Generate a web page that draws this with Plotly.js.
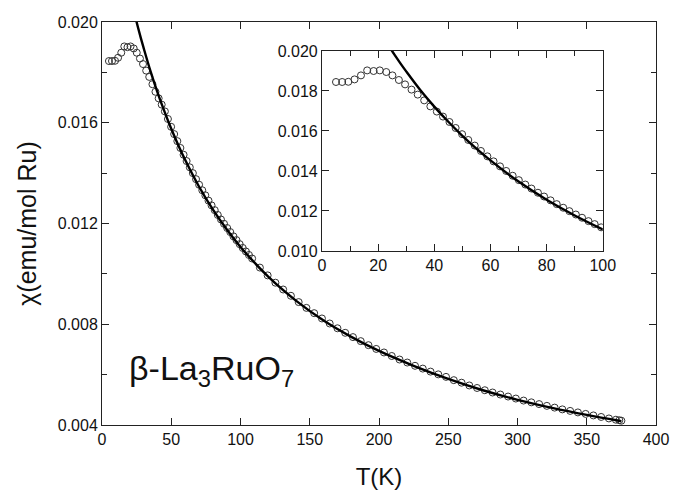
<!DOCTYPE html>
<html>
<head>
<meta charset="utf-8">
<script src="https://cdn.plot.ly/plotly-3.0.1.min.js"></script>
<style>html,body{margin:0;padding:0;background:#fff;}#chart{width:673px;height:490px;}</style>
</head>
<body>
<div id="chart"></div>
<script>
// Measured susceptibility (open circles)
const tempK = [5.0, 7.2, 9.4, 11.6, 13.9, 16.1, 18.4, 20.6, 22.9, 25.1, 27.4, 29.6, 31.9, 34.1, 36.4, 38.6, 40.9, 43.1, 45.4, 47.6,
  49.9, 52.1, 54.4, 56.6, 58.9, 61.1, 63.4, 65.6, 67.9, 70.1, 72.4, 74.6, 76.9, 79.1, 81.4, 83.6, 85.9, 88.1, 90.4, 92.6,
  94.9, 97.1, 99.4, 101.6, 103.9, 106.1, 108.4, 114, 119.6, 125.2, 130.8, 136.4, 142, 147.6, 153.2, 158.8, 164.4, 170,
  175.6, 181.2, 186.8, 192.4, 198, 203.6, 209.2, 214.8, 220.4, 226, 231.6, 237.2, 242.8, 248.4, 254, 259.6, 265.2, 270.8,
  276.4, 282, 287.6, 293.2, 298.8, 304.4, 310, 315.6, 321.2, 326.8, 332.4, 338, 343.6, 349.2, 354.8, 360.4, 366, 371, 373.5, 375];
const chiData = [0.01845, 0.01845, 0.01846, 0.01858, 0.01878, 0.01903, 0.01900, 0.01903, 0.01895, 0.01878, 0.01855, 0.01833, 0.01807, 0.01782, 0.01753, 0.01723, 0.01697, 0.01672, 0.01645, 0.01615,
  0.01584, 0.01555, 0.01527, 0.01500, 0.01473, 0.01448, 0.01423, 0.01400, 0.01376, 0.01354, 0.01332, 0.01312, 0.01291, 0.01272, 0.01253, 0.01234, 0.01216, 0.01199, 0.01182, 0.01166,
  0.01149, 0.01134, 0.01118, 0.01103, 0.01089, 0.01075, 0.01061, 0.01025, 0.00994, 0.00965, 0.00938, 0.00913, 0.00888, 0.00865, 0.00844, 0.00823, 0.00803, 0.00784,
  0.00766, 0.00749, 0.00733, 0.00717, 0.00702, 0.00688, 0.00674, 0.00660, 0.00648, 0.00635, 0.00624, 0.00612, 0.00601, 0.00591, 0.00578, 0.00568, 0.00557, 0.00547,
  0.00538, 0.00529, 0.00521, 0.00513, 0.00505, 0.00497, 0.00490, 0.00483, 0.00476, 0.00469, 0.00462, 0.00456, 0.00450, 0.00444, 0.00438, 0.00432, 0.00426, 0.00421, 0.00419, 0.00417];

// Curie-Weiss fit (solid line)
const fitT = [24, 26, 28, 30, 35, 40, 45, 50, 55, 60, 70, 80, 90, 100, 120, 140, 160, 180, 200, 225, 250, 275, 300, 325, 350, 375];
const fitChi = [0.02021, 0.01978, 0.01937, 0.01898, 0.01805, 0.01722, 0.01646, 0.01576, 0.01512, 0.01453, 0.01347, 0.01256, 0.01177, 0.01107,
  0.00989, 0.00894, 0.00815, 0.00750, 0.00694, 0.00635, 0.00583, 0.00538, 0.00500, 0.00468, 0.00440, 0.00415];

// Inset shows only the low-temperature part of the same data
const insetMaxT = 100;
const insetT = tempK.filter(t => t <= insetMaxT);
const insetChi = chiData.slice(0, insetT.length);
const insetFitT = fitT.filter(t => t <= insetMaxT);
const insetFitChi = fitChi.slice(0, insetFitT.length);

const FONT = "Liberation Sans, Arial, sans-serif";
const INK = "#111";
const marker = {symbol: "circle-open", size: 7, color: "#333", line: {width: 1, color: "#333"}};

const traces = [
  {x: tempK, y: chiData, mode: "markers", marker: marker, xaxis: "x", yaxis: "y", showlegend: false, cliponaxis: true},
  {x: fitT, y: fitChi, mode: "lines", line: {color: "#000", width: 2.4, shape: "spline"}, xaxis: "x", yaxis: "y", showlegend: false},
  {x: insetT, y: insetChi, mode: "markers", marker: marker, xaxis: "x2", yaxis: "y2", showlegend: false},
  {x: insetFitT, y: insetFitChi, mode: "lines", line: {color: "#000", width: 2.4, shape: "spline"}, xaxis: "x2", yaxis: "y2", showlegend: false}
];

const axBase = {
  showline: true, linecolor: "#222", linewidth: 1, mirror: "ticks",
  ticks: "inside", ticklen: 7, tickwidth: 1, tickcolor: "#222",
  showgrid: false, zeroline: false,
  tickfont: {family: FONT, size: 16, color: INK}
};

const layout = {
  width: 673, height: 490,
  margin: {l: 102, r: 17, t: 22, b: 65},
  paper_bgcolor: "#fff", plot_bgcolor: "#fff",
  font: {family: FONT, color: INK},
  xaxis: Object.assign({}, axBase, {
    range: [0, 400], dtick: 50, tick0: 0,
    title: {text: "T(K)", font: {family: FONT, size: 24, color: INK}, standoff: 22},
    automargin: false
  }),
  yaxis: Object.assign({}, axBase, {
    range: [0.004, 0.020], dtick: 0.004, tick0: 0.004, tickformat: ".3f",
    minor: {dtick: 0.002, ticks: "inside", ticklen: 5, tickcolor: "#222", showgrid: false},
    title: {text: "χ(emu/mol Ru)", font: {family: FONT, size: 25, color: INK}, standoff: 14},
    automargin: false
  }),
  xaxis2: Object.assign({}, axBase, {
    domain: [0.397, 0.904], anchor: "y2",
    range: [0, 100], dtick: 20, tick0: 0,
    minor: {dtick: 10, ticks: "inside", ticklen: 5, tickcolor: "#222", showgrid: false},
    automargin: false
  }),
  yaxis2: Object.assign({}, axBase, {
    domain: [0.432, 0.928], anchor: "x2",
    range: [0.010, 0.020], dtick: 0.002, tick0: 0.010, tickformat: ".3f",
    automargin: false
  }),
  annotations: [{
    text: "β-La<sub>3</sub>RuO<sub>7</sub>",
    xref: "x", yref: "y", x: 18.3, y: 0.00618,
    xanchor: "left", yanchor: "middle", showarrow: false,
    font: {family: FONT, size: 34, color: INK}
  }]
};

Plotly.newPlot("chart", traces, layout, {staticPlot: true, displayModeBar: false});
</script>
</body>
</html>
